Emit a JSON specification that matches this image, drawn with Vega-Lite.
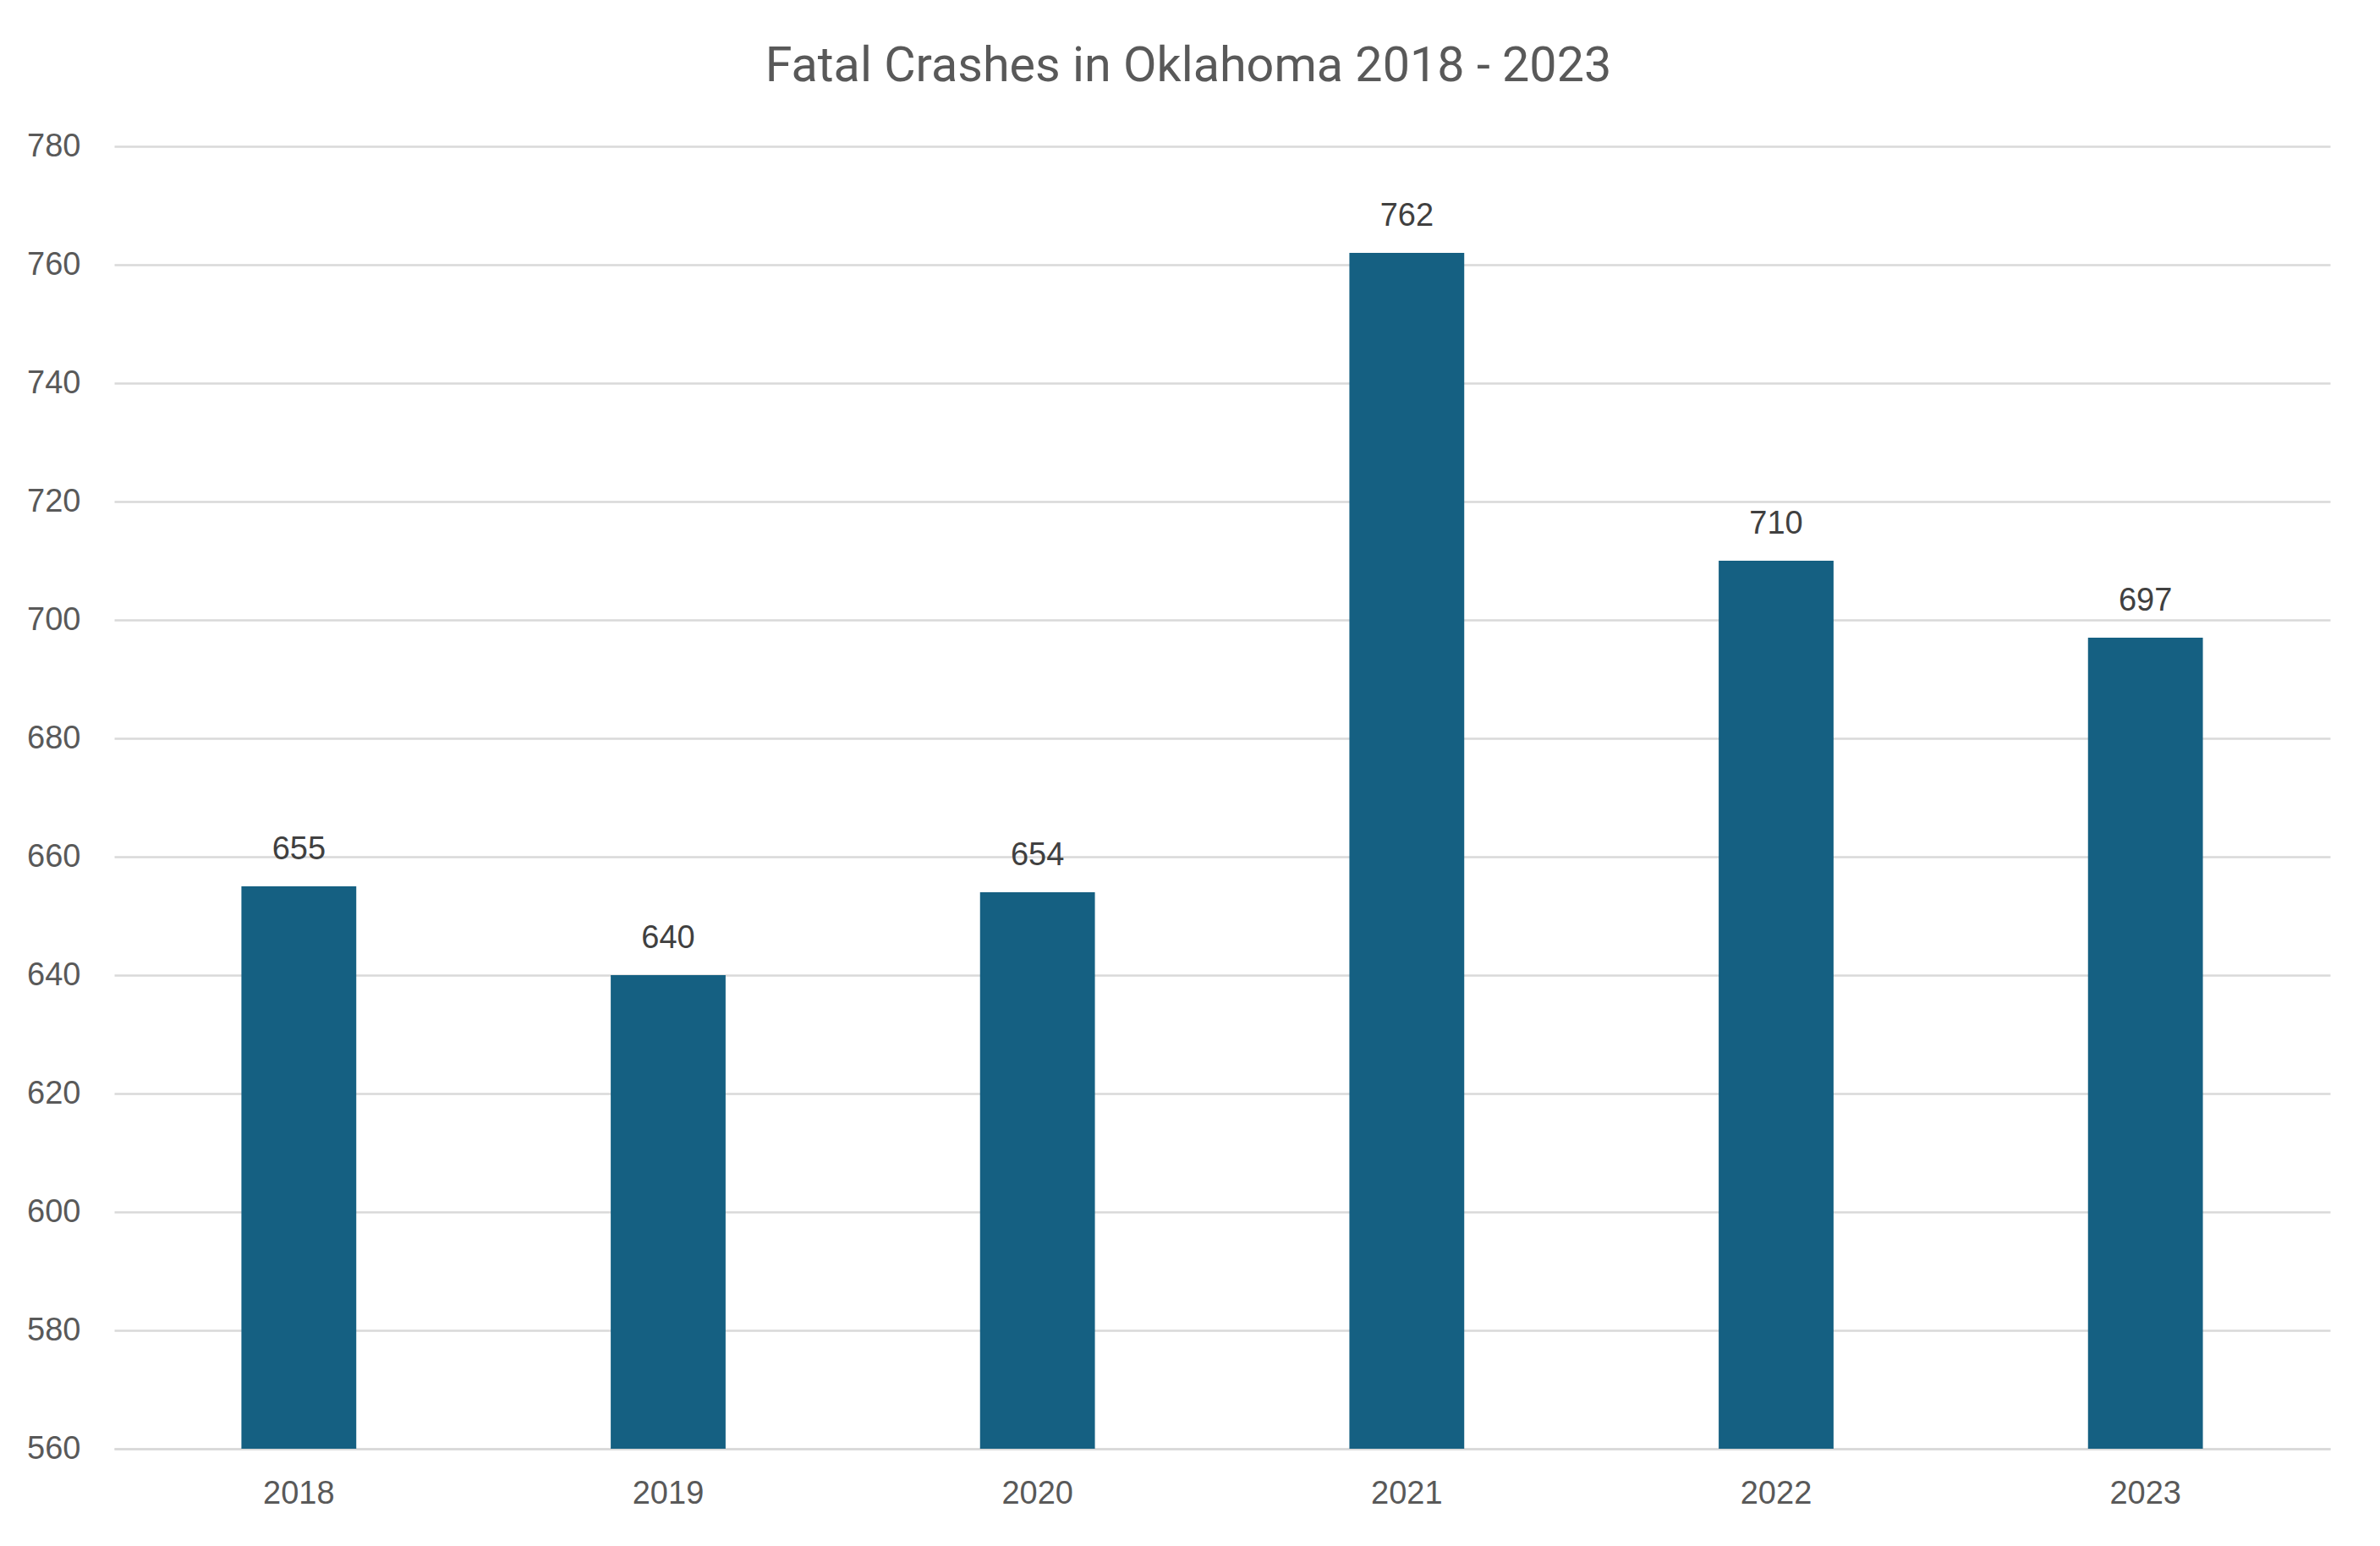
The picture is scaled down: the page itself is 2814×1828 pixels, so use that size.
{
  "$schema": "https://vega.github.io/schema/vega-lite/v6.json",
  "width": 2620,
  "height": 1540,
  "autosize": {"type": "none"},
  "padding": {"left": 135, "top": 173, "right": 59, "bottom": 115},
  "background": "white",
  "config": {
    "view": {"stroke": null},
    "font": "Liberation Sans"
  },
  "title": {
    "text": "Fatal Crashes in Oklahoma 2018 - 2023",
    "font": "Roboto",
    "fontSize": 57.5,
    "fontWeight": "normal",
    "color": "#595959",
    "anchor": "middle",
    "offset": 46,
    "dx": -40
  },
  "data": {
    "values": [
      {"year": "2018", "crashes": 655},
      {"year": "2019", "crashes": 640},
      {"year": "2020", "crashes": 654},
      {"year": "2021", "crashes": 762},
      {"year": "2022", "crashes": 710},
      {"year": "2023", "crashes": 697}
    ]
  },
  "encoding": {
    "x": {
      "field": "year",
      "type": "nominal",
      "sort": null,
      "scale": {"paddingInner": 0.689, "paddingOuter": 0.3445},
      "axis": {
        "title": null,
        "labelAngle": 0,
        "labelFontSize": 38,
        "labelColor": "#595959",
        "labelPadding": 34,
        "ticks": false,
        "domain": true,
        "domainColor": "#D9D9D9",
        "domainWidth": 2.5
      }
    },
    "y": {
      "field": "crashes",
      "type": "quantitative",
      "scale": {"domain": [560, 780], "nice": false, "zero": false},
      "axis": {
        "title": null,
        "values": [560, 580, 600, 620, 640, 660, 680, 700, 720, 740, 760, 780],
        "labelFontSize": 38,
        "labelColor": "#595959",
        "labelPadding": 40,
        "ticks": false,
        "domain": false,
        "grid": true,
        "gridColor": "#D9D9D9",
        "gridWidth": 2.5
      }
    }
  },
  "layer": [
    {
      "mark": {"type": "bar", "color": "#156082", "clip": true}
    },
    {
      "mark": {
        "type": "text",
        "baseline": "alphabetic",
        "dy": -32,
        "fontSize": 38,
        "color": "#404040"
      },
      "encoding": {
        "text": {"field": "crashes", "type": "quantitative"}
      }
    }
  ]
}
